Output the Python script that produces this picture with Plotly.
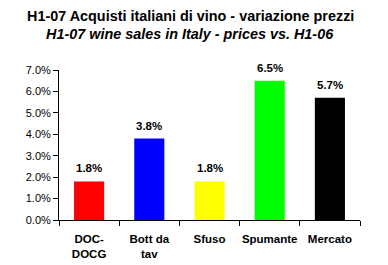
import plotly.graph_objects as go

categories = ["DOC-<br>DOCG", "Bott da<br>tav", "Sfuso", "Spumante", "Mercato"]
values = [1.8, 3.8, 1.8, 6.5, 5.7]
colors = ["#ff0000", "#0000ff", "#ffff00", "#00ff00", "#000000"]
title1 = "H1-07 Acquisti italiani di vino - variazione prezzi"
title2 = "H1-07 wine sales in Italy - prices vs. H1-06"

font = "Liberation Sans, Arial, sans-serif"

fig = go.Figure(go.Bar(
    x=categories, y=values, marker=dict(color=colors, line=dict(width=0)),
    hoverinfo="x+y",
))
annotations = [
    dict(text="<b>" + title1 + "</b>", font=dict(size=14.4, family=font), py=16),
    dict(text="<b><i>" + title2 + "</i></b>", font=dict(size=14.4, family=font), py=34),
]
plot_h = 265 - 70 - 45
anns = []
for a in annotations:
    py = a.pop("py")
    anns.append(dict(a, x=(190 - 59) / (388 - 59 - 28), y=(265 - 45 - py) / plot_h,
                     xref="paper", yref="paper", showarrow=False, yanchor="middle"))
for c, v in zip(categories, values):
    anns.append(dict(x=c, y=v, xref="x", yref="y", text=f"<b>{v:.1f}%</b>",
                     showarrow=False, yanchor="bottom", yshift=5,
                     font=dict(size=11.5, family=font, color="black")))
fig.update_layout(
    width=388, height=265, margin=dict(l=59, r=28, t=70, b=45),
    paper_bgcolor="white", plot_bgcolor="white", bargap=0.5,
    showlegend=False, font=dict(family=font, color="black", size=11),
    annotations=anns,
)
fig.update_xaxes(showline=True, linecolor="black", linewidth=1, ticks="outside",
                 tickson="boundaries", ticklen=5, tickcolor="black", tickangle=0,
                 ticklabelstandoff=8, automargin=False,
                 tickfont=dict(size=11.5, family=font), showgrid=False,
                 tickprefix="<b>", ticksuffix="</b>")
fig.update_yaxes(range=[0, 7], dtick=1, tickformat=".1f", ticksuffix="%",
                 showline=True, linecolor="black", linewidth=1, ticks="outside",
                 ticklen=5, tickcolor="black", showgrid=False, zeroline=False,
                 automargin=False,
                 tickfont=dict(size=11, family=font))
fig.write_html("out.html")
